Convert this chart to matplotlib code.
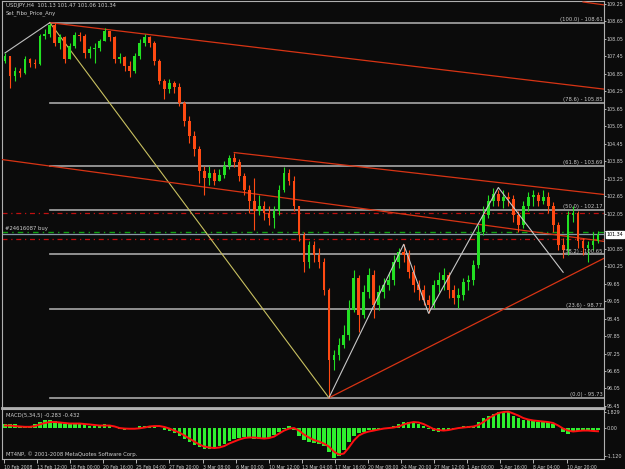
import numpy as np
import matplotlib
matplotlib.use("Agg")
import matplotlib.pyplot as plt
import matplotlib.transforms as mtrans

symbol = "USDJPY,H4"
first_open = 107.30
closes = [
    107.47, 106.78, 106.96, 106.89, 107.37, 107.23, 107.20, 108.15, 108.22, 108.53,
    107.92, 108.12, 107.37, 107.81, 108.19, 108.15, 107.57, 107.71, 107.74, 107.98,
    108.33, 108.12, 107.37, 107.44, 107.13, 106.96, 107.47, 107.92, 108.12, 107.92,
    107.30, 106.61, 106.34, 106.55, 106.41, 105.86, 105.24, 104.73, 104.28, 103.53,
    103.26, 103.46, 103.19, 103.39, 103.70, 103.98, 103.81, 103.36, 102.85, 102.50,
    102.16, 102.33, 102.09, 101.89, 102.16, 102.85, 103.46, 103.19, 102.33, 101.31,
    100.38, 100.96, 100.62, 100.38, 99.42, 97.02, 97.20, 97.54, 97.88, 98.74,
    99.83, 98.57, 99.35, 99.94, 98.91, 99.35, 99.59, 99.76, 100.38, 100.72,
    100.62, 100.04, 99.59, 99.42, 99.08, 98.91, 99.59, 99.76, 99.94, 99.42,
    99.15, 99.25, 99.70, 99.76, 100.28, 101.41, 101.99, 102.50, 102.74, 102.50,
    102.64, 102.57, 101.99, 101.65, 102.33, 102.61, 102.68, 102.50, 102.64, 102.33,
    101.65, 100.96, 100.79, 101.99, 102.09, 101.13, 100.86, 100.96, 101.13, 101.34,
]
highs = [
    107.57, 107.47, 107.09, 107.06, 107.47, 107.40, 107.37, 108.22, 108.39, 108.61,
    108.60, 108.22, 108.15, 107.92, 108.29, 108.29, 108.22, 107.81, 107.92, 108.05,
    108.43, 108.33, 108.15, 107.57, 107.47, 107.30, 107.57, 108.05, 108.22, 108.15,
    107.98, 107.37, 106.68, 106.68, 106.61, 106.55, 105.93, 105.42, 104.90, 104.39,
    103.70, 103.70, 103.60, 103.60, 103.87, 104.08, 104.15, 103.94, 103.46, 103.02,
    103.26, 102.68, 102.50, 102.33, 102.33, 103.02, 103.67, 103.60, 103.36, 102.33,
    101.41, 101.13, 101.13, 100.86, 100.52, 99.49, 97.37, 97.78, 98.22, 99.08,
    100.11, 99.94, 99.59, 100.17, 100.11, 99.59, 99.83, 100.04, 100.62, 100.86,
    101.00, 100.79, 100.28, 99.76, 99.59, 99.25, 99.76, 100.04, 100.17, 100.04,
    99.59, 99.49, 99.83, 99.94, 100.45, 101.65, 102.33, 102.68, 102.95, 102.85,
    102.85, 102.78, 102.68, 102.16, 102.50, 102.78, 102.85, 102.78, 102.85, 102.78,
    102.44, 101.75, 101.20, 102.16, 102.33, 102.16, 101.20, 101.13, 101.41, 101.47,
]
lows = [
    107.23, 106.37, 106.61, 106.75, 106.85, 107.09, 107.06, 107.16, 108.05, 108.12,
    107.81, 107.71, 107.23, 107.47, 107.74, 107.98, 107.40, 107.40, 107.23, 107.64,
    107.98, 107.98, 107.23, 107.23, 106.96, 106.75, 106.89, 107.37, 107.81, 107.78,
    107.16, 106.51, 106.00, 106.20, 106.20, 105.76, 105.07, 104.49, 104.04, 103.12,
    102.68, 103.02, 103.02, 103.19, 103.26, 103.60, 103.67, 103.19, 102.68, 102.09,
    101.48, 101.99, 101.82, 101.65, 101.55, 101.99, 102.78, 103.02, 102.16, 101.13,
    100.04, 100.17, 100.38, 100.17, 99.25, 95.73, 96.68, 97.02, 97.44, 97.71,
    98.67, 97.98, 98.46, 99.15, 98.46, 98.74, 99.15, 99.42, 99.59, 100.17,
    100.38, 99.83, 99.35, 99.08, 98.91, 98.63, 98.81, 99.35, 99.42, 99.15,
    98.94, 98.81, 99.08, 99.42, 99.59, 100.17, 101.31, 101.89, 102.33, 102.30,
    102.26, 102.30, 101.75, 101.41, 101.55, 102.16, 102.33, 102.30, 102.37, 102.09,
    101.41, 100.79, 100.52, 100.62, 101.75, 100.86, 100.62, 100.38, 100.79, 101.06,
]

macd_hist = [
    0.46, 0.40, 0.35, 0.17, 0.12, 0.12, 0.35, 0.58, 0.81, 0.86,
    0.75, 0.63, 0.46, 0.46, 0.52, 0.46, 0.35, 0.23, 0.23, 0.29,
    0.35, 0.23, -0.06, -0.17, -0.23, -0.17, 0.00, 0.12, 0.23, 0.23,
    0.17, 0.00, -0.23, -0.35, -0.58, -0.92, -1.27, -1.61, -1.96, -2.19,
    -2.42, -2.42, -2.30, -2.07, -1.84, -1.50, -1.27, -1.15, -1.04, -1.15,
    -1.27, -1.27, -1.27, -1.15, -0.81, -0.46, -0.12, 0.12, -0.23, -0.92,
    -1.38, -1.61, -1.73, -1.84, -2.07, -2.76, -3.45, -3.22, -2.53, -1.61,
    -0.92, -0.58, -0.46, -0.29, -0.23, -0.12, 0.00, 0.00, 0.12, 0.35,
    0.58, 0.69, 0.69, 0.46, 0.23, -0.12, -0.35, -0.46, -0.35, -0.23,
    -0.12, 0.00, 0.12, 0.12, 0.23, 0.58, 1.04, 1.38, 1.61, 1.83,
    1.83, 1.73, 1.38, 1.04, 0.92, 0.81, 0.75, 0.69, 0.58, 0.58,
    0.35, 0.00, -0.46, -0.69, -0.46, -0.35, -0.23, -0.35, -0.35, -0.283,
]
macd_signal = [
    0.23, 0.23, 0.17, 0.12, 0.08, 0.08, 0.17, 0.35, 0.52, 0.63,
    0.63, 0.58, 0.52, 0.46, 0.46, 0.46, 0.40, 0.35, 0.29, 0.23,
    0.23, 0.23, 0.12, -0.06, -0.12, -0.14, -0.14, -0.09, 0.00, 0.12,
    0.17, 0.17, 0.06, -0.12, -0.35, -0.58, -0.92, -1.27, -1.61, -1.96,
    -2.19, -2.30, -2.36, -2.30, -2.13, -1.84, -1.61, -1.38, -1.21, -1.15,
    -1.15, -1.21, -1.27, -1.21, -1.04, -0.69, -0.35, -0.12, -0.06, -0.35,
    -0.81, -1.15, -1.44, -1.61, -1.84, -2.19, -2.76, -3.11, -2.99, -2.30,
    -1.50, -0.92, -0.63, -0.46, -0.35, -0.23, -0.12, -0.06, 0.00, 0.12,
    0.35, 0.52, 0.63, 0.58, 0.40, 0.12, -0.17, -0.29, -0.35, -0.29,
    -0.17, -0.06, 0.00, 0.06, 0.12, 0.29, 0.63, 1.04, 1.38, 1.67,
    1.78, 1.83, 1.61, 1.38, 1.09, 0.92, 0.81, 0.75, 0.69, 0.63,
    0.52, 0.23, -0.12, -0.35, -0.46, -0.40, -0.35, -0.35, -0.40, -0.432,
]

# fibo from swing high candle to swing low candle
fib_ratios = [0.0, 23.6, 38.2, 50.0, 61.8, 78.6, 100.0]
fib_high_bar = 9
fib_low_bar = 65

# zigzag (candle index, price)
zigzag_bars = [65, 80, 85, 99, 112]
zigzag_prices = [95.73, 101.00, 98.63, 102.95, 100.04]

# hand drawn trend lines: (x0, p0, x1, p1)
red_lines = [
    (-0.6, 103.91, 120.2, 101.10),
    (46, 104.15, 120.2, 102.71),
    (65, 95.73, 120.2, 100.52),
    (116, 109.32, 120.2, 109.22),
]

order_label = "#24616087 buy"
order_price = 101.41
stop_price = 101.17
target_price = 102.06

time_labels = ["10 Feb 2008", "13 Feb 12:00", "18 Feb 00:00", "20 Feb 16:00",
               "25 Feb 04:00", "27 Feb 20:00", "3 Mar 08:00", "6 Mar 00:00",
               "10 Mar 12:00", "13 Mar 04:00", "17 Mar 16:00", "20 Mar 08:00",
               "24 Mar 20:00", "27 Mar 12:00", "1 Apr 00:00", "3 Apr 16:00",
               "8 Apr 04:00", "10 Apr 20:00"]
macd_tick_labels = ["1.829", "0.00", "-1.120"]

BG = "#0b0b0b"
FG = "#d0d0d0"
BULL = "#22e022"
BEAR = "#ff4a12"
FONT = dict(family="DejaVu Sans", fontstretch="condensed")
FS = 4.2
XMIN, XMAX = -0.6, 120.2


def draw_candles(ax):
    opens = [first_open] + closes[:-1]
    x = np.arange(len(closes))
    for i in x:
        o, c = opens[i], closes[i]
        hi = max(highs[i], o, c)
        lo = min(lows[i], o, c)
        col = BULL if c >= o else BEAR
        ax.vlines(i, lo, hi, color=col, linewidth=0.8, zorder=4)
        h = abs(c - o) if abs(c - o) > 0.02 else 0.02
        ax.bar(i, h, bottom=min(o, c), width=0.55, color=col, linewidth=0, zorder=5)


def draw_fibo(ax):
    hi = highs[fib_high_bar]
    lo = lows[fib_low_bar]
    for r in fib_ratios:
        p = lo + r / 100.0 * (hi - lo)
        ax.plot([fib_high_bar, XMAX], [p, p], color="#a8a8a8", linewidth=1.2, zorder=2)
        ax.text(119.9, p + 0.03, "(%.1f) - %.2f" % (r, p), ha="right", va="bottom",
                fontsize=FS, color="#c8c8c8", zorder=7, **FONT)
    ax.plot([fib_high_bar, fib_low_bar], [hi, lo], color="#c8c060", linewidth=0.8, zorder=3)


def draw_lines(ax):
    # trend line over the highs, extended to the right edge
    x0, x1 = 9, 28
    p0, p1 = highs[x0], highs[x1]
    pend = p0 + (p1 - p0) / (x1 - x0) * (XMAX - x0)
    ax.plot([x0, XMAX], [p0, pend], color="#d83414", linewidth=0.9, zorder=3)
    for (a, pa, b, pb) in red_lines:
        ax.plot([a, b], [pa, pb], color="#d83414", linewidth=0.9, zorder=3)
    ax.plot([0, fib_high_bar], [highs[0], highs[fib_high_bar]], color="#c0c0c0", linewidth=0.8, zorder=3)
    ax.plot(zigzag_bars, zigzag_prices, color="#c8c8c8", linewidth=0.8, zorder=6)

    ax.axhline(target_price, color="#c01010", linewidth=0.9, dashes=(4, 3, 1, 3), zorder=2)
    ax.axhline(order_price, color="#10a010", linewidth=1.0, dashes=(4, 3, 1, 3), zorder=2)
    ax.axhline(closes[-1], color="#8898a8", linewidth=0.9, zorder=2)
    ax.axhline(stop_price, color="#c01010", linewidth=0.9, dashes=(4, 3, 1, 3), zorder=2)
    ax.text(0.0, order_price + 0.06, order_label, fontsize=FS, color=FG,
            va="bottom", ha="left", zorder=7, **FONT)


def draw_macd(ax):
    x = np.arange(len(macd_hist))
    ax.bar(x, macd_hist, width=0.7, color="#2ef02e", linewidth=0, zorder=3)
    ax.plot(x, macd_signal, color="#ff1010", linewidth=1.4, zorder=4)


if __name__ == "__main__":
    fig = plt.figure(figsize=(6.25, 4.69), dpi=100, facecolor=BG)
    W, H = 625.0, 469.0
    ax = fig.add_axes([2 / W, 1 - 408 / H, 602 / W, 407 / H], facecolor=BG)
    axm = fig.add_axes([2 / W, 1 - 459 / H, 602 / W, 50 / H], facecolor=BG)

    draw_candles(ax)
    draw_fibo(ax)
    draw_lines(ax)
    draw_macd(axm)

    ax.set_xlim(XMIN, XMAX)
    ax.set_ylim(95.38, 109.353)
    ax.yaxis.tick_right()
    yt = np.arange(95.45, 109.26, 0.6)
    ax.set_yticks(yt)
    # the 101.45 label sits under the bid box
    ax.set_yticklabels(["" if abs(v - 101.45) < 0.01 else "%.2f" % v for v in yt], **FONT)
    ax.tick_params(axis="y", colors=FG, labelsize=3.9, length=1.5, width=0.6, pad=0.5)
    ax.set_xticks([])
    for s in ax.spines.values():
        s.set_color("#b0b0b0")
        s.set_linewidth(0.8)
    ax.spines["bottom"].set_linewidth(2)

    # current bid box
    tr = mtrans.blended_transform_factory(ax.transAxes, ax.transData)
    ax.text(1.004, closes[-1], "%.2f" % closes[-1], transform=tr, fontsize=3.9,
            color="black", va="center", ha="left", zorder=10,
            bbox=dict(facecolor="white", edgecolor="white", pad=0.5), **FONT)

    o, c = closes[-2], closes[-1]
    ax.text(0.006, 0.996, "%s  %.2f %.2f %.2f %.2f" % (symbol, o, highs[-1], lows[-1], c),
            transform=ax.transAxes, fontsize=FS, color=FG, va="top", **FONT)
    ax.text(0.006, 0.976, "Set_Fibo_Price_Any", transform=ax.transAxes, fontsize=FS,
            color=FG, va="top", **FONT)

    axm.set_xlim(XMIN, XMAX)
    axm.set_ylim(-3.62, 2.13)
    axm.yaxis.tick_right()
    axm.set_yticks([1.829, 0.0, -3.3])
    axm.set_yticklabels(macd_tick_labels, **FONT)
    axm.tick_params(axis="y", colors=FG, labelsize=3.9, length=1.5, width=0.6, pad=0.5)
    tick_pos = np.arange(len(time_labels)) * 6.64 - 0.2
    axm.set_xticks(tick_pos)
    axm.set_xticklabels(time_labels, ha="left", **FONT)
    axm.tick_params(axis="x", colors=FG, labelsize=3.7, length=3, width=0.6, pad=1)
    for s in axm.spines.values():
        s.set_color("#b0b0b0")
        s.set_linewidth(0.8)
    axm.text(0.006, 0.93, "MACD(5,34,5) %.3f %.3f" % (macd_hist[-1], macd_signal[-1]),
             transform=axm.transAxes, fontsize=FS, color=FG, va="top", **FONT)
    axm.text(0.006, 0.05, "MT4NP, \u00a9 2001-2008 MetaQuotes Software Corp.",
             transform=axm.transAxes, fontsize=FS, color=FG, va="bottom", **FONT)

    fig.savefig("out.png", dpi=100, facecolor=BG)
